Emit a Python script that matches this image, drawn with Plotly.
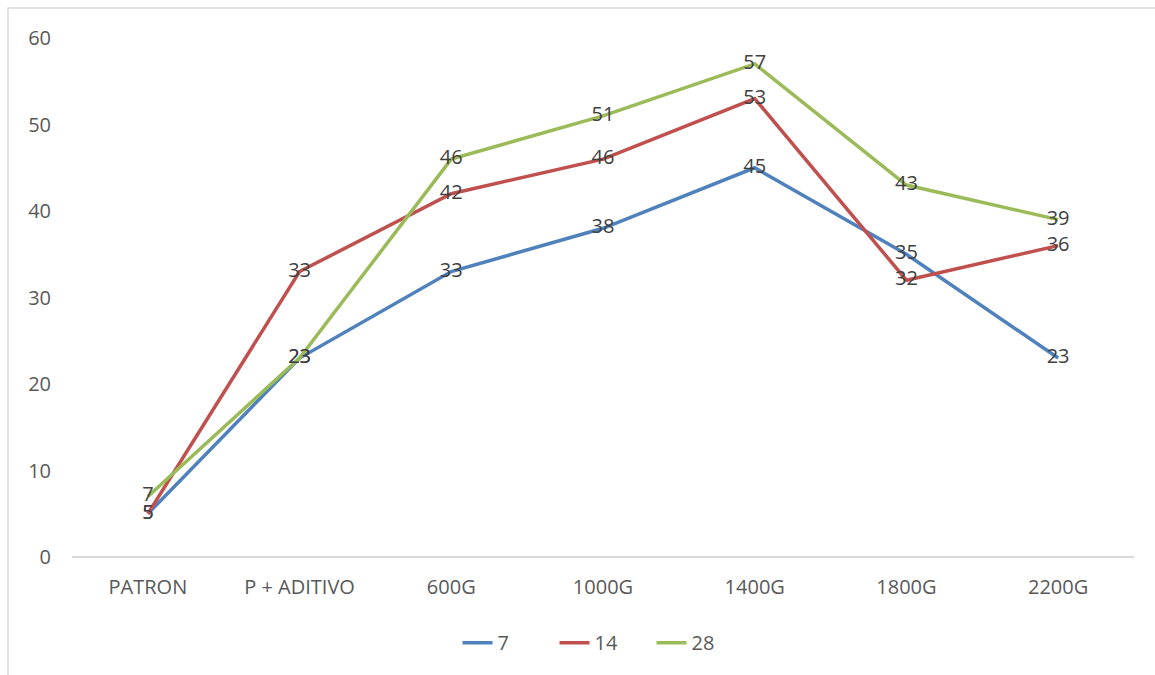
import plotly.graph_objects as go

categories = ["PATRON", "P + ADITIVO", "600G", "1000G", "1400G", "1800G", "2200G"]
dias_7 = [5, 23, 33, 38, 45, 35, 23]
dias_14 = [5, 33, 42, 46, 53, 32, 36]
dias_28 = [7, 23, 46, 51, 57, 43, 39]

series = [
    ("7", dias_7, "#4F81BD"),
    ("14", dias_14, "#C0504D"),
    ("28", dias_28, "#9BBB59"),
]

W, H = 1155, 675
L, R, T, B = 72, 21, 38, 118

fig = go.Figure()
for name, vals, color in series:
    fig.add_trace(go.Scatter(
        x=categories, y=vals, name=name,
        mode="lines+text",
        text=[str(v) for v in vals],
        textposition="middle center",
        textfont=dict(family="Open Sans", size=20, color="#404040"),
        line=dict(color=color, width=3.5),
        cliponaxis=False,
    ))

# outer chart frame
pw, ph = W - L - R, H - T - B
fig.add_shape(
    type="rect", xref="paper", yref="paper",
    x0=(8 - L) / pw, x1=1.2,
    y0=-0.5, y1=(H - B - 8) / ph,
    line=dict(color="#d9d9d9", width=1.5),
    fillcolor="rgba(0,0,0,0)", layer="below",
)

fig.update_layout(
    width=W, height=H,
    margin=dict(l=L, r=R, t=T, b=B),
    paper_bgcolor="white", plot_bgcolor="white",
    font=dict(family="Open Sans", size=20, color="#595959"),
    showlegend=True,
    legend=dict(
        orientation="h", x=0.5, xanchor="center", y=-0.165, yanchor="middle",
        font=dict(family="Open Sans", size=20, color="#595959"),
        tracegroupgap=0, entrywidth=52, entrywidthmode="pixels",
    ),
    xaxis=dict(
        type="category", range=[-0.5, 6.5],
        showgrid=False, showline=False, zeroline=False,
        ticks="", ticklabelstandoff=16,
        tickfont=dict(family="Open Sans", size=20, color="#595959"),
    ),
    yaxis=dict(
        range=[0, 60], dtick=10,
        showgrid=False, showline=False,
        zeroline=True, zerolinecolor="#d9d9d9", zerolinewidth=2,
        ticks="", ticklabelstandoff=20,
        tickfont=dict(family="Open Sans", size=20, color="#595959"),
    ),
)

fig.write_html("out.html")
